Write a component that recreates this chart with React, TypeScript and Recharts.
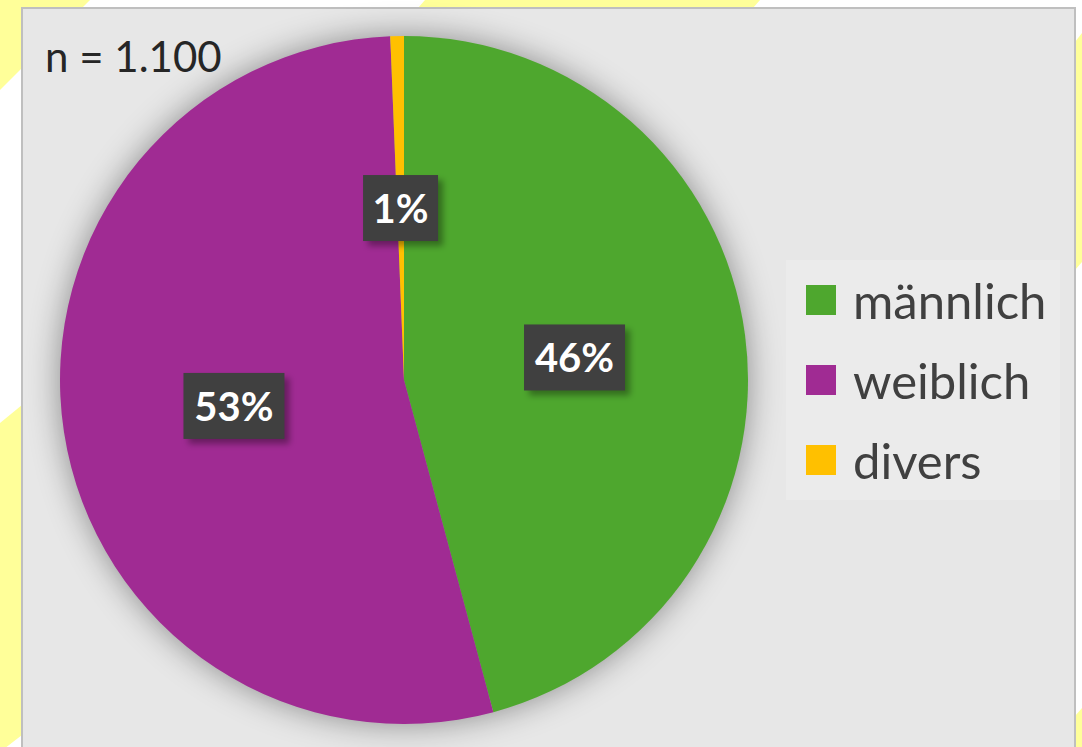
import React from 'react';
import { PieChart, Pie, Cell, Legend } from 'recharts';

// Geschlecht der Befragten, n = 1.100
const categories = ['männlich', 'weiblich', 'divers'];
const counts = [504, 589, 7];
const percentLabels = ['46%', '53%', '1%'];
const colors = ['#4ea72e', '#a02b93', '#ffc000'];
const sampleLabel = 'n = 1.100';

const data = categories.map((name, i) => ({ name, value: counts[i], label: percentLabels[i] }));

const RAD = Math.PI / 180;
const FONT = 'Lato, "Open Sans", sans-serif';

const renderLabel = (props: any) => {
  const { cx, cy, midAngle, outerRadius, index } = props;
  const r = outerRadius * 0.5;
  const x = cx + r * Math.cos(-midAngle * RAD);
  const y = cy + r * Math.sin(-midAngle * RAD);
  const text = percentLabels[index];
  const w = text.length > 2 ? 101 : 75;
  const h = 66;
  return (
    <g key={`lbl-${index}`}>
      <rect x={x - w / 2 + 5} y={y - h / 2 + 5} width={w} height={h} fill="rgba(0,0,0,0.35)" filter="url(#boxBlur)" />
      <rect x={x - w / 2} y={y - h / 2} width={w} height={h} fill="#404040" />
      <text
        x={x}
        y={y}
        textAnchor="middle"
        dominantBaseline="central"
        fill="#ffffff"
        fontFamily={FONT}
        fontWeight={700}
        fontSize={40}
      >
        {text}
      </text>
    </g>
  );
};

const LegendBox = () => (
  <div
    style={{
      width: 274,
      height: 240,
      background: '#ebebeb',
      boxSizing: 'border-box',
      paddingLeft: 20,
      fontFamily: FONT,
    }}
  >
    {categories.map((c, i) => (
      <div key={c} style={{ display: 'flex', alignItems: 'center', height: 80 }}>
        <span style={{ width: 30, height: 30, background: colors[i], display: 'inline-block', marginRight: 17, flexShrink: 0 }} />
        <span style={{ fontSize: 49, color: '#404040', lineHeight: '80px', whiteSpace: 'nowrap' }}>{c}</span>
      </div>
    ))}
  </div>
);

export default function App() {
  return (
    <div style={{ position: 'relative', width: 1082, height: 747, background: '#ffffff', overflow: 'hidden' }}>
      <style>{`body{margin:0} .recharts-pie{filter:drop-shadow(0 0 16px rgba(0,0,0,0.4))}`}</style>
      <svg width={1082} height={747} style={{ position: 'absolute', left: 0, top: 0 }}>
        <g fill="#ffff99">
          <polygon points="0,0 90,0 0,90" />
          <polygon points="425,0 760,0 753,8 418,8" />
          <polygon points="0,423 22,405 22,735 0,752" />
          <polygon points="1075,42 1082,33 1082,262 1075,270" />
          <polygon points="1075,716 1082,708 1082,747 1075,747" />
        </g>
      </svg>
      <div
        style={{
          position: 'absolute',
          left: 21,
          top: 7,
          width: 1055,
          height: 760,
          background: '#e7e7e7',
          border: '2px solid #bfbfbf',
          boxSizing: 'border-box',
        }}
      />
      <div
        style={{
          position: 'absolute',
          left: 45,
          top: 30,
          fontFamily: FONT,
          fontSize: 42,
          color: '#262626',
          lineHeight: '52px',
        }}
      >
        {sampleLabel}
      </div>
      <div style={{ position: 'absolute', left: 0, top: 0 }}>
        <PieChart width={1082} height={747} margin={{ top: 0, right: 0, bottom: 0, left: 0 }}>
          <defs>
            <filter id="boxBlur" x="-20%" y="-20%" width="140%" height="140%">
              <feGaussianBlur stdDeviation="3" />
            </filter>
          </defs>
          <Pie
            data={data}
            dataKey="value"
            nameKey="name"
            cx={404}
            cy={380}
            outerRadius={344}
            startAngle={90}
            endAngle={-270}
            stroke="none"
            labelLine={false}
            label={renderLabel}
            isAnimationActive={false}
          >
            {data.map((d, i) => (
              <Cell key={d.name} fill={colors[i]} />
            ))}
          </Pie>
          <Legend
            layout="vertical"
            content={<LegendBox />}
            wrapperStyle={{ position: 'absolute', left: 786, top: 260, width: 274, height: 240 }}
          />
        </PieChart>
      </div>
    </div>
  );
}
